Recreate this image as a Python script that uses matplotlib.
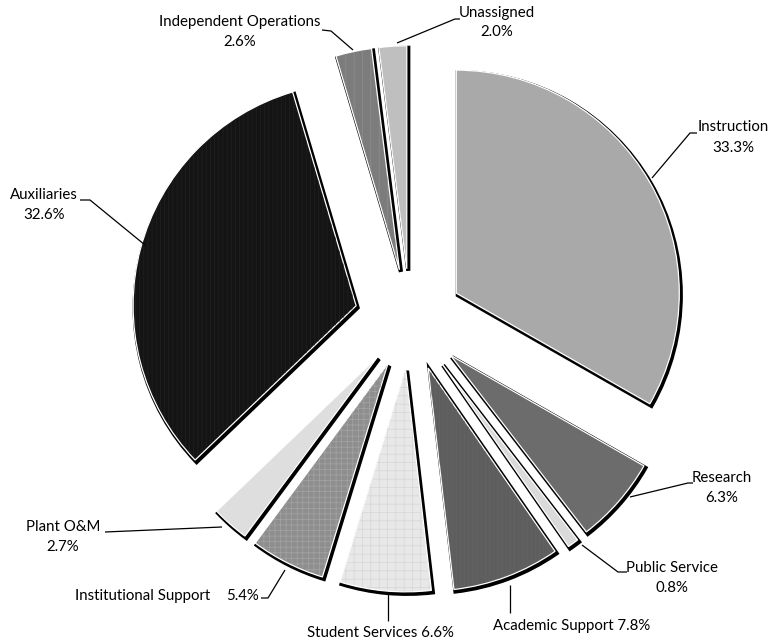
#!/usr/bin/env python3
"""Exploded pie of expenditures by function."""

import matplotlib
matplotlib.use("Agg")
import matplotlib.pyplot as plt
from matplotlib.patches import Wedge

# data
categories = ['Instruction', 'Research', 'Public Service', 'Academic Support',
              'Student Services', 'Institutional Support', 'Plant O&M',
              'Auxiliaries', 'Independent Operations', 'Unassigned']
shares = [33.3, 6.3, 0.8, 7.8, 6.6, 5.4, 2.7, 32.6, 2.6, 2.0]

face_colors = ['#a9a9a9', '#6c6c6c', '#dadada', '#5e5e5e', '#e8e8e8',
               '#8e8e8e', '#dedede', '#141414', '#7c7c7c', '#bfbfbf']
hatches = ['', '', '', '||||', '++', '+++', '', '||||', '||', '']
hatch_colors = ['#bcbcbc', '#7a7a7a', '#e6e6e6', '#636363', '#d6d6d6',
                '#a4a4a4', '#e9e9e9', '#202020', '#8e8e8e', '#c4c4c4']

W, H = 771, 641
plt.rcParams['font.family'] = ['Lato', 'DejaVu Sans']
plt.rcParams['hatch.linewidth'] = 0.5

fig = plt.figure(figsize=(W / 100, H / 100), dpi=100)
ax = fig.add_axes([0, 0, 1, 1])

cx, cy = 410, H - 320
R = 223
# explode in matplotlib is in data units -> scale by radius
explode_frac = [0.24, 0.24, 0.24, 0.23, 0.22, 0.22, 0.22, 0.25, 0.23, 0.23]
explode = [e * R for e in explode_frac]

# black shadow / outline copy
ax.pie(shares, explode=explode, startangle=90, counterclock=False,
       radius=R, center=(cx + 1.5, cy - 2), colors=['black'] * len(shares),
       wedgeprops=dict(edgecolor='black', linewidth=3.0))

# the slices themselves
wedges, _ = ax.pie(shares, explode=explode, startangle=90, counterclock=False,
                   radius=R, center=(cx, cy), colors=face_colors,
                   wedgeprops=dict(edgecolor='white', linewidth=0.9))

# fine textures on top
for w, h, hc in zip(wedges, hatches, hatch_colors):
    if not h:
        continue
    ov = Wedge(w.center, w.r - 1, w.theta1 + 0.3, w.theta2 - 0.3,
               facecolor='none', edgecolor=hc, linewidth=0, hatch=h)
    ax.add_patch(ov)


def txt(s, x, y, ha='center'):
    ax.text(x, H - y, s, ha=ha, va='center', fontsize=10.8, color='black')


def leader(pts):
    xs = [p[0] for p in pts]
    ys = [H - p[1] for p in pts]
    ax.plot(xs, ys, color='black', linewidth=0.9, solid_capstyle='butt')


txt('Independent Operations', 240, 22)
txt(f'{shares[8]}%', 240, 42)
leader([(353, 50), (331, 31), (322, 30)])

txt('Unassigned', 497, 13)
txt(f'{shares[9]}%', 497, 32)
leader([(397, 43), (455, 19), (460, 19)])

txt('Instruction', 733, 127)
txt(f'{shares[0]}%', 733, 148)
leader([(652, 178), (690, 133), (697, 133)])

txt('Auxiliaries', 44, 195)
txt(f'{shares[7]}%', 44, 215)
leader([(145, 245), (90, 200), (80, 200)])

txt('Research', 722, 478)
txt(f'{shares[1]}%', 722, 498)
leader([(630, 497), (688, 483), (693, 483)])

txt('Public Service', 672, 568)
txt(f'{shares[2]}%', 672, 588)
leader([(582, 545), (618, 572), (627, 572)])

txt(f'Academic Support {shares[3]}%', 572, 626)
leader([(510, 585), (510, 613)])

txt(f'Student Services {shares[4]}%', 380, 633)
leader([(388, 592), (388, 621)])

txt('Institutional Support', 143, 596)
txt(f'{shares[5]}%', 243, 596)
leader([(285, 570), (268, 598), (261, 598)])

txt('Plant O&M', 63, 527)
txt(f'{shares[6]}%', 63, 547)
leader([(222, 527), (105, 532)])

ax.set_xlim(0, W)
ax.set_ylim(0, H)
ax.set_aspect('equal')
ax.axis('off')

plt.savefig('out.png', dpi=100)
